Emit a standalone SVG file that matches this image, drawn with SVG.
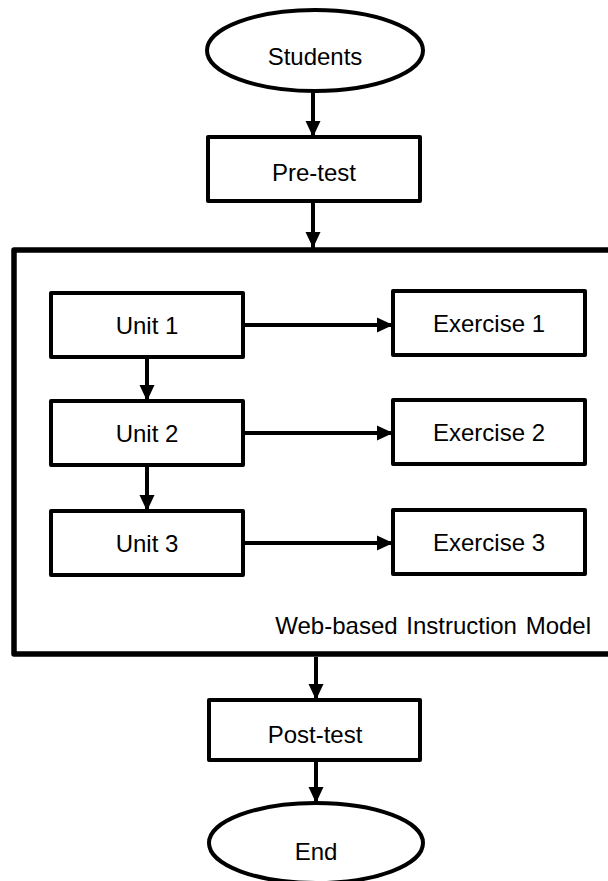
<svg xmlns="http://www.w3.org/2000/svg" width="608" height="881" viewBox="0 0 608 881">
  <style>
    .shape { fill: #ffffff; stroke: #000000; stroke-width: 4; stroke-linejoin: round; }
    .outer { fill: #ffffff; stroke: #000000; stroke-width: 5.5; stroke-linejoin: round; }
    .label { font-family: "Liberation Sans", Arial, sans-serif; font-size: 24px; fill: #000000; text-anchor: middle; }
    .conn { stroke: #000000; stroke-width: 4; fill: none; marker-end: url(#arrow); }
  </style>
  <defs>
    <marker id="arrow" markerUnits="userSpaceOnUse" markerWidth="16" markerHeight="16" viewBox="0 0 16 16" refX="16" refY="8" orient="auto">
      <path d="M0,0.5 L16,8 L0,15.5 Z" fill="#000000"/>
    </marker>
  </defs>

  <g id="web-based-instruction-model">
    <rect class="outer" x="14" y="250" width="620" height="404"/>
    <text class="label" x="591" y="634" style="text-anchor:end" word-spacing="2">Web-based Instruction Model</text>
  </g>

  <g id="connectors">
    <line class="conn" x1="313" y1="91" x2="313" y2="137"/>
    <line class="conn" x1="313" y1="201" x2="313" y2="248"/>
    <line class="conn" x1="147" y1="357" x2="147" y2="401"/>
    <line class="conn" x1="147" y1="465" x2="147" y2="511"/>
    <line class="conn" x1="243" y1="325" x2="393" y2="325"/>
    <line class="conn" x1="243" y1="433" x2="393" y2="433"/>
    <line class="conn" x1="243" y1="543" x2="393" y2="543"/>
    <line class="conn" x1="316" y1="657" x2="316" y2="700"/>
    <line class="conn" x1="316" y1="760" x2="316" y2="803"/>
  </g>

  <g id="students">
    <ellipse class="shape" cx="315" cy="50.5" rx="108" ry="40.5"/>
    <text class="label" x="315" y="65">Students</text>
  </g>

  <g id="pre-test">
    <rect class="shape" x="208" y="137" width="212" height="64"/>
    <text class="label" x="314" y="181">Pre-test</text>
  </g>

  <g id="unit-1">
    <rect class="shape" x="51" y="293" width="192" height="64"/>
    <text class="label" x="147" y="334">Unit 1</text>
  </g>
  <g id="exercise-1">
    <rect class="shape" x="393" y="291" width="192" height="64"/>
    <text class="label" x="489" y="332">Exercise 1</text>
  </g>

  <g id="unit-2">
    <rect class="shape" x="51" y="401" width="192" height="64"/>
    <text class="label" x="147" y="442">Unit 2</text>
  </g>
  <g id="exercise-2">
    <rect class="shape" x="393" y="400" width="192" height="64"/>
    <text class="label" x="489" y="441">Exercise 2</text>
  </g>

  <g id="unit-3">
    <rect class="shape" x="51" y="511" width="192" height="64"/>
    <text class="label" x="147" y="552">Unit 3</text>
  </g>
  <g id="exercise-3">
    <rect class="shape" x="393" y="510" width="192" height="64"/>
    <text class="label" x="489" y="551">Exercise 3</text>
  </g>

  <g id="post-test">
    <rect class="shape" x="209" y="700" width="211" height="60"/>
    <text class="label" x="315" y="743">Post-test</text>
  </g>

  <g id="end">
    <ellipse class="shape" cx="316" cy="843" rx="107" ry="40"/>
    <text class="label" x="316" y="860">End</text>
  </g>
</svg>
